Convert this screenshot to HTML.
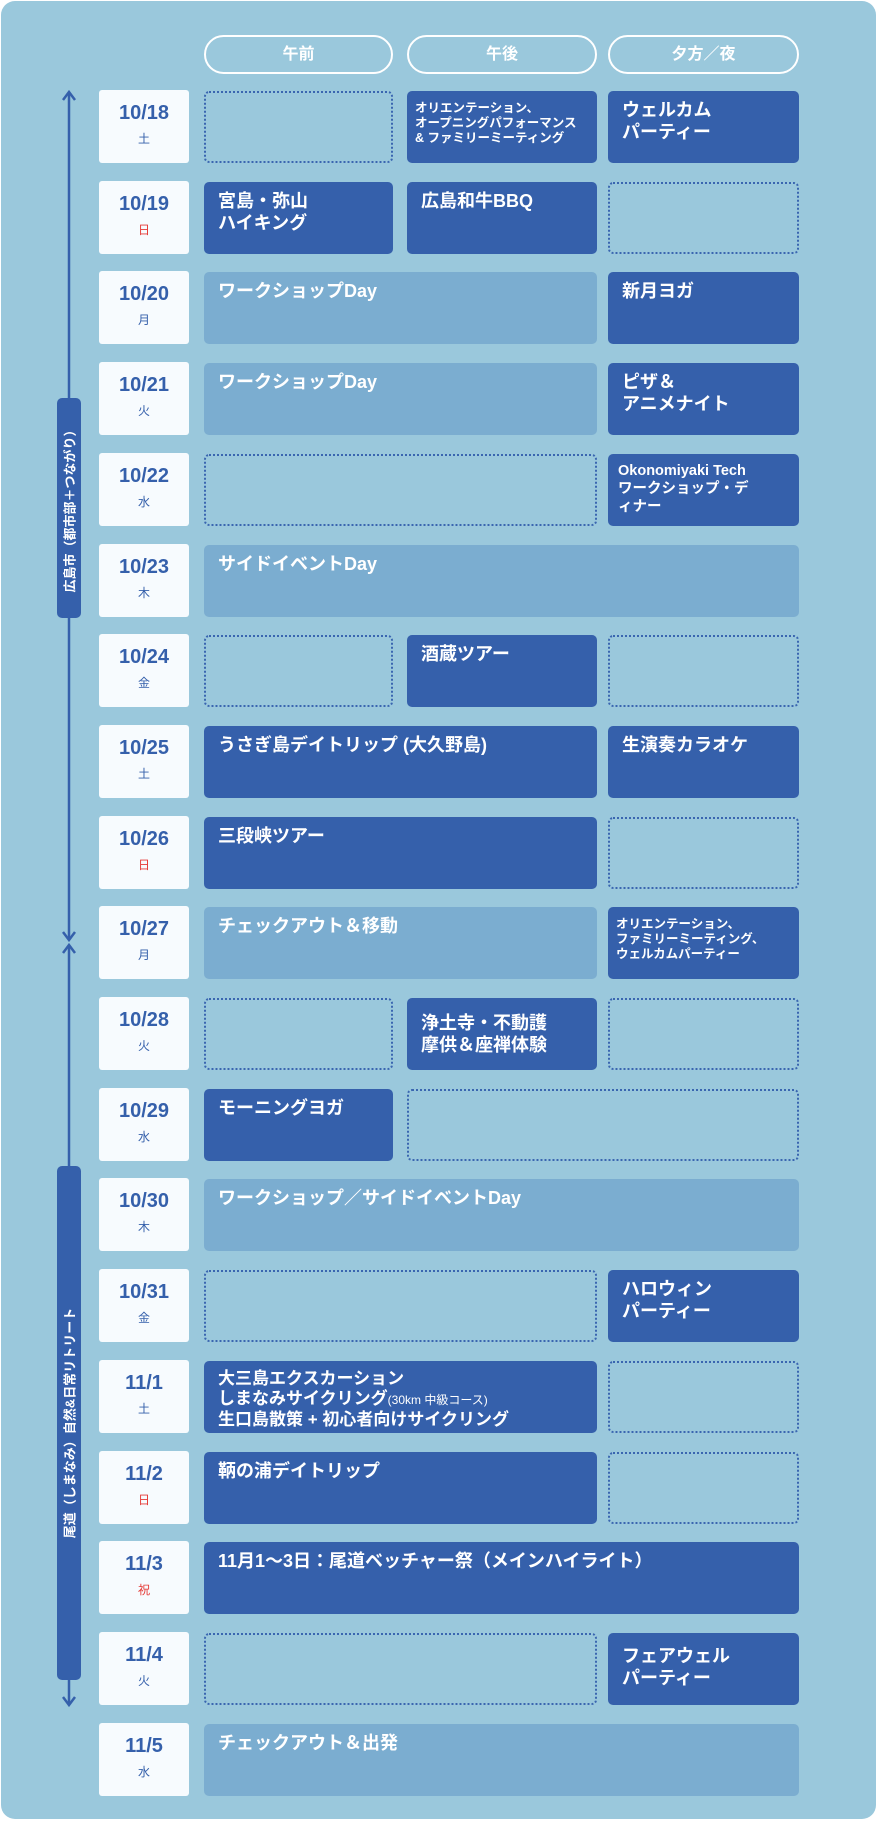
<!DOCTYPE html>
<html><head><meta charset="utf-8"><style>
*{margin:0;padding:0;box-sizing:border-box}
body{width:877px;height:1821px;background:#fff;position:relative;overflow:hidden;font-family:"Liberation Sans","Noto Sans CJK JP",sans-serif}
.bg{position:absolute;left:1px;top:1px;width:875px;height:1818px;background:#9ac8dc;border-radius:14px}
.hp{position:absolute;top:35px;height:39px;border:2px solid #fff;border-radius:20px;color:#fff;font-weight:bold;font-size:16px;text-align:center;line-height:35px}
.r{position:absolute;left:0;width:877px;height:73px}
.d{position:absolute;left:99px;width:90px;height:73px;top:0;background:#f7fbfe;border-radius:3px;text-align:center;color:#3560ab}
.d b{display:block;font-size:20px;margin-top:11px;line-height:24px}
.d i{display:block;font-style:normal;font-size:12px;margin-top:5px}
.d i.red{color:#e53935}
.e{position:absolute;top:1px;height:72px;border-radius:5px;color:#fff;font-weight:bold;font-size:18px;line-height:22px;padding:8px 14px}
.k{background:#3560ab}
.l{background:#7badd0}
.o{border:2px dotted #3a66b0}
.s{font-size:12.5px;line-height:15px;padding:10px 8px}
.c1{left:204px;width:189px}.c2{left:407px;width:190px}.c3{left:608px;width:191px}
.c12{left:204px;width:393px}.c23{left:407px;width:392px}.c123{left:204px;width:595px}
.ax{position:absolute;left:68px;width:2px;background:#3560ab}
.vp{position:absolute;left:57px;width:24px;background:#3560ab;border-radius:5px}
.vt{position:absolute;left:50%;top:50%;transform:translate(-50%,-50%) rotate(-90deg);white-space:nowrap;color:#fff;font-weight:bold;font-size:13px}
</style></head><body>
<div class="bg"></div>
<div class="hp" style="left:204px;width:189px">午前</div>
<div class="hp" style="left:407px;width:190px">午後</div>
<div class="hp" style="left:608px;width:191px">夕方／夜</div>

<svg style="position:absolute;left:0;top:0" width="877" height="1821">
<g stroke="#3560ab" stroke-width="2.5" fill="none">
<line x1="69" y1="92" x2="69" y2="940"/><polyline points="63,100 69,92 75,100"/><polyline points="63,932 69,940 75,932"/>
<line x1="69" y1="945" x2="69" y2="1705"/><polyline points="63,953 69,945 75,953"/><polyline points="63,1697 69,1705 75,1697"/>
</g></svg>
<div class="vp" style="top:398px;height:220px"><div class="vt">広島市（都市部＋つながり）</div></div>
<div class="vp" style="top:1166px;height:514px"><div class="vt">尾道（しまなみ）自然&amp;日常リトリート</div></div>

<div class="r" style="top:90px"><div class="d"><b>10/18</b><i>土</i></div>
<div class="e o c1"></div><div class="e k c2 s">オリエンテーション、<br>オープニングパフォーマンス<br>&amp; ファミリーミーティング</div><div class="e k c3">ウェルカム<br>パーティー</div></div>

<div class="r" style="top:181px"><div class="d"><b>10/19</b><i class="red">日</i></div>
<div class="e k c1">宮島・弥山<br>ハイキング</div><div class="e k c2">広島和牛BBQ</div><div class="e o c3"></div></div>

<div class="r" style="top:271px"><div class="d"><b>10/20</b><i>月</i></div>
<div class="e l c12">ワークショップDay</div><div class="e k c3">新月ヨガ</div></div>

<div class="r" style="top:362px"><div class="d"><b>10/21</b><i>火</i></div>
<div class="e l c12">ワークショップDay</div><div class="e k c3">ピザ＆<br>アニメナイト</div></div>

<div class="r" style="top:453px"><div class="d"><b>10/22</b><i>水</i></div>
<div class="e o c12"></div><div class="e k c3" style="font-size:14.5px;line-height:18px;padding:8px 10px">Okonomiyaki Tech<br>ワークショップ・デ<br>ィナー</div></div>

<div class="r" style="top:544px"><div class="d"><b>10/23</b><i>木</i></div>
<div class="e l c123">サイドイベントDay</div></div>

<div class="r" style="top:634px"><div class="d"><b>10/24</b><i>金</i></div>
<div class="e o c1"></div><div class="e k c2">酒蔵ツアー</div><div class="e o c3"></div></div>

<div class="r" style="top:725px"><div class="d"><b>10/25</b><i>土</i></div>
<div class="e k c12">うさぎ島デイトリップ (大久野島)</div><div class="e k c3">生演奏カラオケ</div></div>

<div class="r" style="top:816px"><div class="d"><b>10/26</b><i class="red">日</i></div>
<div class="e k c12">三段峡ツアー</div><div class="e o c3"></div></div>

<div class="r" style="top:906px"><div class="d"><b>10/27</b><i>月</i></div>
<div class="e l c12">チェックアウト＆移動</div><div class="e k c3 s">オリエンテーション、<br>ファミリーミーティング、<br>ウェルカムパーティー</div></div>

<div class="r" style="top:997px"><div class="d"><b>10/28</b><i>火</i></div>
<div class="e o c1"></div><div class="e k c2" style="padding-top:14px">浄土寺・不動護<br>摩供＆座禅体験</div><div class="e o c3"></div></div>

<div class="r" style="top:1088px"><div class="d"><b>10/29</b><i>水</i></div>
<div class="e k c1">モーニングヨガ</div><div class="e o c23"></div></div>

<div class="r" style="top:1178px"><div class="d"><b>10/30</b><i>木</i></div>
<div class="e l c123">ワークショップ／サイドイベントDay</div></div>

<div class="r" style="top:1269px"><div class="d"><b>10/31</b><i>金</i></div>
<div class="e o c12"></div><div class="e k c3">ハロウィン<br>パーティー</div></div>

<div class="r" style="top:1360px"><div class="d"><b>11/1</b><i>土</i></div>
<div class="e k c12" style="font-size:17px;line-height:20px">大三島エクスカーション<br>しまなみサイクリング<span style="font-size:12px;font-weight:normal">(30km 中級コース)</span><br>生口島散策 + 初心者向けサイクリング</div><div class="e o c3"></div></div>

<div class="r" style="top:1451px"><div class="d"><b>11/2</b><i class="red">日</i></div>
<div class="e k c12">鞆の浦デイトリップ</div><div class="e o c3"></div></div>

<div class="r" style="top:1541px"><div class="d"><b>11/3</b><i class="red">祝</i></div>
<div class="e k c123">11月1〜3日：尾道ベッチャー祭（メインハイライト）</div></div>

<div class="r" style="top:1632px"><div class="d"><b>11/4</b><i>火</i></div>
<div class="e o c12"></div><div class="e k c3" style="padding-top:12px">フェアウェル<br>パーティー</div></div>

<div class="r" style="top:1723px"><div class="d"><b>11/5</b><i>水</i></div>
<div class="e l c123">チェックアウト＆出発</div></div>
</body></html>
